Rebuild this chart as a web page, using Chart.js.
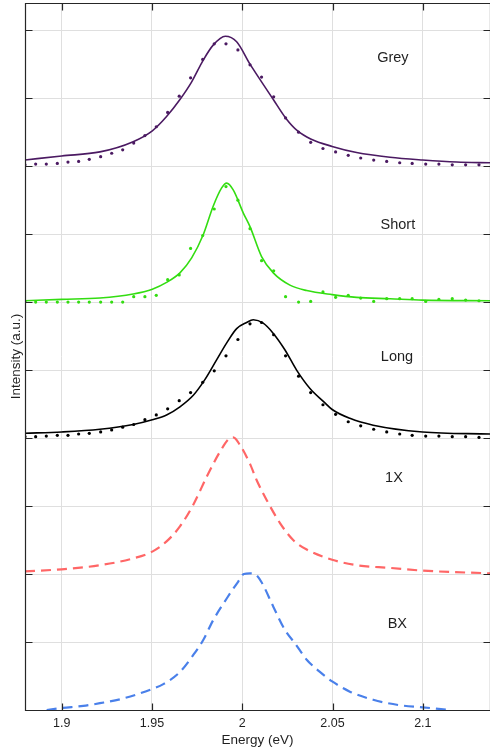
<!DOCTYPE html>
<html>
<head>
<meta charset="utf-8">
<title>Intensity vs Energy</title>
<script src="https://cdn.jsdelivr.net/npm/chart.js@4"></script>
<style>
  html, body { margin: 0; padding: 0; background: #fff; overflow: hidden; }
  #wrap { width: 490px; height: 753px; position: relative; }
</style>
</head>
<body>
<div id="wrap"><canvas id="chart"></canvas></div>
<script>
// ── data ──────────────────────────────────────────────────────────────────────

var energyTicks = [1.9, 1.95, 2.0, 2.05, 2.1];
var levelTicks  = [0, 1, 2, 3, 4, 5, 6, 7, 8, 9, 10];

// measured points share one energy grid
var dotEnergy = [1.8797, 1.8856, 1.8915, 1.8976, 1.9035, 1.9094, 1.9153, 1.9216, 1.9277, 1.9338,
                 1.9399, 1.9461, 1.9524, 1.9587, 1.9651, 1.9714, 1.9781, 1.9845, 1.9910, 1.9976,
                 2.0043, 2.0107, 2.0174, 2.0240, 2.0312, 2.0379, 2.0447, 2.0517, 2.0587, 2.0656,
                 2.0728, 2.0800, 2.0872, 2.0941, 2.1016, 2.1089, 2.1163, 2.1237, 2.1311];

var greyDots  = [8.02, 8.03, 8.03, 8.04, 8.06, 8.07, 8.10, 8.14, 8.19, 8.24,
                 8.34, 8.45, 8.58, 8.79, 9.03, 9.30, 9.57, 9.80, 9.80, 9.71,
                 9.49, 9.31, 9.02, 8.71, 8.50, 8.35, 8.26, 8.21, 8.16, 8.12,
                 8.09, 8.07, 8.05, 8.04, 8.03, 8.03, 8.02, 8.02, 8.02];

var shortDots = [6.01, 6.00, 6.00, 6.00, 6.00, 6.00, 6.00, 6.00, 6.00, 6.00,
                 6.08, 6.08, 6.10, 6.33, 6.40, 6.79, 6.98, 7.37, 7.70, 7.50,
                 7.08, 6.61, 6.46, 6.08, 6.00, 6.01, 6.15, 6.07, 6.10, 6.06,
                 6.01, 6.05, 6.05, 6.05, 6.01, 6.04, 6.05, 6.03, 6.02];

var longDots  = [4.02, 4.02, 4.03, 4.04, 4.04, 4.06, 4.07, 4.09, 4.12, 4.16,
                 4.20, 4.27, 4.34, 4.43, 4.55, 4.67, 4.82, 4.99, 5.21, 5.45,
                 5.68, 5.70, 5.52, 5.21, 4.91, 4.67, 4.49, 4.35, 4.24, 4.18,
                 4.13, 4.09, 4.06, 4.04, 4.03, 4.03, 4.02, 4.02, 4.01];

// fitted curves
var greyFitE  = [1.8797, 1.9000, 1.9212, 1.9396, 1.9502, 1.9581, 1.9655, 1.9720, 1.9784, 1.9839,
                 1.9906, 1.9969, 2.0043, 2.0107, 2.0172, 2.0240, 2.0310, 2.0379, 2.0498, 2.0633,
                 2.0818, 2.0999, 2.1187, 2.1372];
var greyFit   = [8.09, 8.15, 8.21, 8.36, 8.52, 8.73, 8.98, 9.24, 9.56, 9.78,
                 9.91, 9.83, 9.50, 9.24, 8.98, 8.71, 8.51, 8.40, 8.29, 8.20,
                 8.13, 8.09, 8.06, 8.05];

var shortFitE = [1.8797, 1.9000, 1.9212, 1.9396, 1.9502, 1.9581, 1.9655, 1.9720, 1.9784, 1.9839,
                 1.9886, 1.9914, 1.9950, 2.0006, 2.0043, 2.0107, 2.0172, 2.0264, 2.0357, 2.0498,
                 2.0633, 2.0818, 2.0999, 2.1372];
var shortFit  = [6.02, 6.04, 6.06, 6.12, 6.19, 6.29, 6.43, 6.65, 6.99, 7.41,
                 7.68, 7.75, 7.65, 7.31, 7.11, 6.67, 6.43, 6.25, 6.17, 6.11,
                 6.07, 6.05, 6.03, 6.02];

var longFitE  = [1.8797, 1.9000, 1.9212, 1.9396, 1.9502, 1.9581, 1.9655, 1.9729, 1.9793, 1.9858,
                 1.9914, 1.9969, 2.0024, 2.0061, 2.0116, 2.0172, 2.0236, 2.0301, 2.0375, 2.0449,
                 2.0498, 2.0596, 2.0725, 2.0999, 2.1372];
var longFit   = [4.07, 4.09, 4.13, 4.20, 4.27, 4.34, 4.46, 4.63, 4.86, 5.15,
                 5.40, 5.61, 5.70, 5.74, 5.69, 5.54, 5.30, 5.00, 4.73, 4.54,
                 4.42, 4.29, 4.19, 4.09, 4.06];

// reference spectra (dashed)
var oneXE     = [1.8797, 1.9000, 1.9212, 1.9396, 1.9502, 1.9581, 1.9655, 1.9729, 1.9803, 1.9877,
                 1.9932, 1.9950, 1.9987, 2.0043, 2.0080, 2.0135, 2.0209, 2.0282, 2.0357, 2.0498,
                 2.0633, 2.0818, 2.0999, 2.1372];
var oneX      = [2.04, 2.07, 2.13, 2.23, 2.33, 2.48, 2.70, 3.02, 3.43, 3.80,
                 4.00, 4.01, 3.90, 3.62, 3.38, 3.09, 2.75, 2.50, 2.36, 2.21,
                 2.13, 2.09, 2.05, 2.01];

var bxE       = [1.8917, 1.9000, 1.9120, 1.9212, 1.9341, 1.9502, 1.9563, 1.9655, 1.9729, 1.9784,
                 1.9839, 1.9914, 1.9978, 2.0009, 2.0043, 2.0070, 2.0107, 2.0172, 2.0236, 2.0292,
                 2.0357, 2.0430, 2.0498, 2.0596, 2.0725, 2.0873, 2.0999, 2.1150];
var bx        = [0.00, 0.03, 0.06, 0.10, 0.17, 0.31, 0.38, 0.56, 0.81, 1.03,
                 1.32, 1.64, 1.89, 2.00, 2.01, 2.00, 1.88, 1.52, 1.18, 0.98,
                 0.74, 0.56, 0.42, 0.27, 0.15, 0.07, 0.04, 0.00];

// series names and where they are written (energy, intensity)
var names  = ["Grey", "Short", "Long", "1X", "BX"];
var nameE  = [2.0834, 2.0862, 2.0857, 2.0840, 2.0859];
var nameV  = [9.59, 7.13, 5.19, 3.41, 1.27];

// ── styles ────────────────────────────────────────────────────────────────────

var FONT    = '"Liberation Sans", Arial, Helvetica, sans-serif';
var TEXT    = "#1f1f1f";
var AXIS    = "#262626";
var GRID    = "#dfdfdf";
var PURPLE  = "#4b1a62";
var GREEN   = "#33dd11";
var BLACK   = "#000000";
var RED     = "#ff6666";
var BLUE    = "#4a80ea";

function pts(xs, ys) {
  return xs.map(function(x, i) { return { x: x, y: ys[i] }; });
}

function fitLine(label, xs, ys, color) {
  return {
    label: label, data: pts(xs, ys),
    borderColor: color, borderWidth: 1.6,
    pointRadius: 0, showLine: true, fill: false,
    cubicInterpolationMode: "monotone"
  };
}

function dashLine(label, xs, ys, color) {
  return {
    label: label, data: pts(xs, ys),
    borderColor: color, borderWidth: 2.2, borderDash: [10, 6],
    pointRadius: 0, showLine: true, fill: false,
    cubicInterpolationMode: "monotone"
  };
}

function dots(label, xs, ys, color) {
  return {
    label: label, data: pts(xs, ys),
    showLine: false, pointRadius: 1.6, pointHoverRadius: 1.6,
    pointBorderWidth: 0, pointBackgroundColor: color, borderColor: color
  };
}

// ── box, inner ticks and series names ─────────────────────────────────────────

var framePlugin = {
  id: "frame",
  afterDatasetsDraw: function(chart) {
    var ctx = chart.ctx, a = chart.chartArea;
    var xs = chart.scales.x, ys = chart.scales.y;
    var L = Math.round(a.left) + 0.5, R = Math.round(a.right) + 0.5;
    var T = Math.round(a.top) + 0.5,  B = Math.round(a.bottom) + 0.5;
    var len = 7;

    ctx.save();
    ctx.strokeStyle = AXIS;
    ctx.lineWidth = 1.2;
    ctx.beginPath();
    ctx.moveTo(L, T); ctx.lineTo(R, T); ctx.lineTo(R, B); ctx.lineTo(L, B); ctx.closePath();

    energyTicks.forEach(function(v) {
      var px = Math.round(xs.getPixelForValue(v)) + 0.5;
      ctx.moveTo(px, T); ctx.lineTo(px, T + len);
      ctx.moveTo(px, B); ctx.lineTo(px, B - len);
    });
    levelTicks.forEach(function(v) {
      var py = Math.round(ys.getPixelForValue(v)) + 0.5;
      ctx.moveTo(L, py); ctx.lineTo(L + len, py);
      ctx.moveTo(R, py); ctx.lineTo(R - len, py);
    });
    ctx.stroke();

    ctx.fillStyle = TEXT;
    ctx.font = "14.5px " + FONT;
    ctx.textAlign = "center";
    ctx.textBaseline = "middle";
    names.forEach(function(n, i) {
      ctx.fillText(n, xs.getPixelForValue(nameE[i]), ys.getPixelForValue(nameV[i]));
    });
    ctx.restore();
  }
};

// ── chart ─────────────────────────────────────────────────────────────────────

var ctx = document.getElementById("chart").getContext("2d");
var chart = new Chart(ctx, {
  type: "line",
  data: {
    datasets: [
      dots("Grey data", dotEnergy, greyDots, PURPLE),
      fitLine("Grey fit", greyFitE, greyFit, PURPLE),
      dots("Short data", dotEnergy, shortDots, GREEN),
      fitLine("Short fit", shortFitE, shortFit, GREEN),
      dots("Long data", dotEnergy, longDots, BLACK),
      fitLine("Long fit", longFitE, longFit, BLACK),
      dashLine("1X", oneXE, oneX, RED),
      dashLine("BX", bxE, bx, BLUE)
    ]
  },
  options: {
    responsive: true,
    maintainAspectRatio: false,
    animation: false,
    devicePixelRatio: 1,
    layout: { autoPadding: false, padding: { top: 3, right: 0, left: 0, bottom: 0 } },
    plugins: {
      legend: { display: false },
      tooltip: { enabled: false }
    },
    scales: {
      x: {
        type: "linear",
        min: 1.8797,
        max: 2.1372,
        afterBuildTicks: function(scale) {
          scale.ticks = energyTicks.map(function(v) { return { value: v }; });
        },
        grid: { color: GRID, lineWidth: 1, drawTicks: false },
        border: { display: false },
        ticks: {
          color: TEXT,
          padding: 7,
          maxRotation: 0,
          font: { family: FONT, size: 12.5, lineHeight: 1.0 },
          callback: function(v) { return String(Math.round(v * 1000) / 1000); }
        },
        title: {
          display: true,
          text: "Energy (eV)",
          color: TEXT,
          font: { family: FONT, size: 13.5, lineHeight: 1.0 },
          padding: { top: -3.25, bottom: 6.25 }
        }
      },
      y: {
        type: "linear",
        min: 0,
        max: 10.4,
        afterBuildTicks: function(scale) {
          scale.ticks = levelTicks.map(function(v) { return { value: v }; });
        },
        grid: { color: GRID, lineWidth: 1, drawTicks: false },
        border: { display: false },
        ticks: { display: false },
        title: {
          display: true,
          text: "Intensity (a.u.)",
          color: TEXT,
          font: { family: FONT, size: 13.5 },
          padding: { top: 8.4, bottom: 0.4 }
        }
      }
    }
  },
  plugins: [framePlugin]
});
</script>
</body>
</html>
